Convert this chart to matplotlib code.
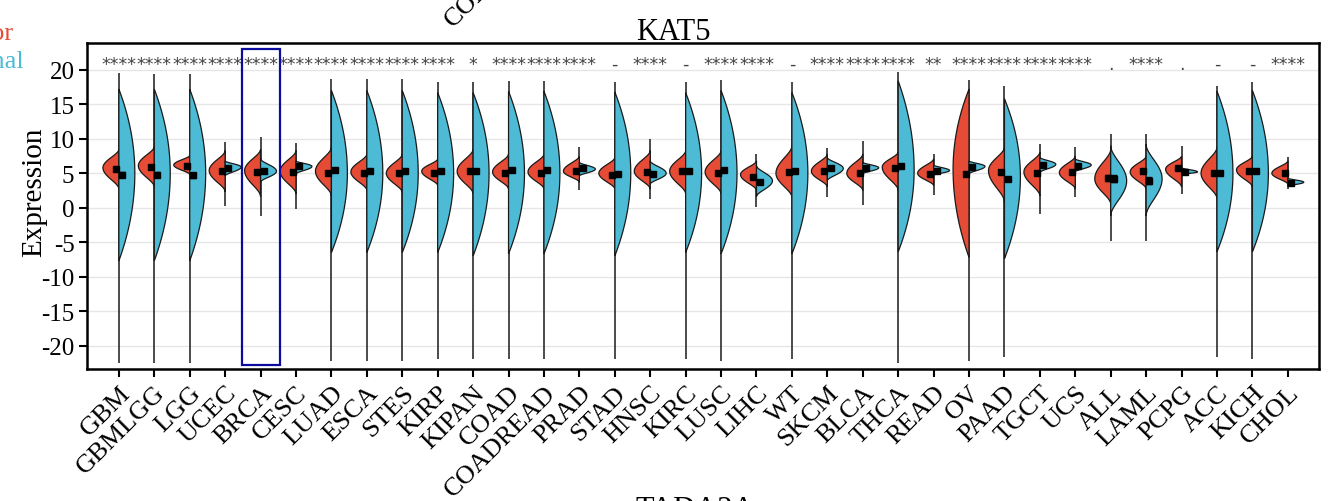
"""
Split violin chart: KAT5 expression in tumor vs normal tissue
"""

import numpy as np
import matplotlib.pyplot as plt
from matplotlib.patches import Rectangle

plt.rcParams['font.family'] = ['Liberation Serif', 'DejaVu Serif']
plt.rcParams['axes.unicode_minus'] = False

cancers = ["GBM", "GBMLGG", "LGG", "UCEC", "BRCA", "CESC", "LUAD", "ESCA", "STES",
           "KIRP", "KIPAN", "COAD", "COADREAD", "PRAD", "STAD", "HNSC", "KIRC", "LUSC",
           "LIHC", "WT", "SKCM", "BLCA", "THCA", "READ", "OV", "PAAD", "TGCT", "UCS",
           "ALL", "LAML", "PCPG", "ACC", "KICH", "CHOL"]
signif = ["****", "****", "****", "****", "****", "****", "****", "****", "****",
          "****", "*", "****", "****", "****", "-", "****", "-", "****",
          "****", "-", "****", "****", "****", "**", "****", "****", "****", "****",
          ".", "****", ".", "-", "-", "****"]

# full data range (thin violin tails)
tail_lo = [-22.5, -22.5, -22.5, 0.3, -1.2, -0.2, -22.2, -22.3, -22.3,
           -21.9, -21.9, -22.0, -22.0, 2.5, -22.0, 1.3, -21.9, -22.2,
           0.1, -21.9, 1.5, 0.4, -22.5, 1.8, -22.2, -21.6, -0.9, 1.6,
           -4.9, -4.9, 2.0, -21.6, -21.9, 2.7]
tail_hi = [19.5, 19.4, 19.4, 9.5, 10.2, 9.4, 18.7, 18.7, 18.7,
           18.2, 18.2, 18.4, 18.4, 8.8, 18.3, 10.0, 18.2, 18.6,
           7.8, 18.2, 8.6, 9.7, 19.7, 7.8, 18.6, 17.7, 9.2, 8.8,
           10.7, 10.7, 9.0, 17.7, 18.2, 7.3]

# tumor half: visible bottom, widest point, visible top, mean, se
tumor_lo = [2.7, 3.0, 4.8, 2.3, 1.6, 2.0, 1.7, 2.5, 2.2,
            3.2, 2.0, 2.7, 2.7, 3.7, 2.7, 2.7, 2.0, 2.0,
            2.5, 1.5, 3.0, 2.5, 2.5, 3.2, -7.2, 0.8, 1.7, 2.7,
            0.5, 2.7, 3.0, 1.3, 3.0, 3.4]
tumor_peak = [5.8, 6.1, 6.2, 5.4, 5.4, 5.3, 5.3, 5.2, 5.0,
              5.3, 5.3, 5.2, 5.2, 5.3, 5.0, 5.3, 5.3, 5.2,
              4.8, 5.0, 5.3, 5.0, 5.9, 5.0, 5.6, 5.4, 5.2, 5.1,
              4.2, 5.2, 5.6, 5.0, 5.5, 5.0]
tumor_hi = [8.5, 8.9, 7.6, 8.3, 8.5, 8.3, 8.8, 7.8, 7.8,
            7.1, 8.5, 7.8, 7.8, 7.5, 7.3, 8.3, 8.3, 8.3,
            6.8, 9.0, 7.8, 7.8, 8.1, 7.1, 17.2, 8.8, 8.1, 7.5,
            8.5, 7.5, 7.5, 8.8, 7.5, 6.8]
tumor_mean = [5.6, 5.9, 6.0, 5.3, 5.2, 5.2, 5.1, 5.0, 5.0,
              5.1, 5.3, 5.1, 5.1, 5.4, 4.8, 5.2, 5.4, 5.1,
              4.4, 5.2, 5.3, 5.1, 5.8, 4.9, 4.9, 5.2, 5.1, 5.2,
              4.3, 5.3, 5.7, 5.0, 5.3, 5.0]
tumor_se = [0.1, 0.05, 0.05, 0.05, 0.05, 0.05, 0.05, 0.1, 0.05,
            0.05, 0.05, 0.05, 0.05, 0.05, 0.2, 0.05, 0.05, 0.05,
            0.05, 0.05, 0.05, 0.05, 0.05, 0.1, 0.3, 0.05, 0.05, 0.1,
            0.4, 0.1, 0.1, 0.1, 0.1, 0.1]

# normal half
normal_lo = [-7.7, -7.7, -7.7, 4.6, 3.7, 4.9, -6.5, -6.5, -6.5,
             -6.5, -7.0, -6.7, -6.7, 4.6, -7.0, 3.4, -6.5, -6.7,
             1.6, -6.7, 3.9, 4.9, -6.4, 4.7, 4.9, -7.4, 5.1, 5.2,
             -1.2, -1.2, 4.8, -6.4, -6.4, 3.1]
normal_peak = [5.0, 5.0, 5.0, 5.9, 5.3, 6.0, 5.0, 5.0, 5.0,
               5.0, 5.0, 5.0, 5.0, 5.6, 5.0, 5.0, 5.0, 5.0,
               3.9, 5.0, 5.7, 5.8, 5.5, 5.4, 6.0, 4.5, 6.3, 6.2,
               3.9, 4.2, 5.2, 5.0, 5.0, 3.7]
normal_hi = [17.2, 17.2, 17.2, 6.8, 7.1, 6.8, 17.0, 17.0, 17.0,
             16.7, 16.7, 16.9, 16.9, 6.6, 16.8, 6.8, 16.7, 17.0,
             6.1, 16.7, 7.3, 6.6, 18.4, 6.2, 6.8, 15.8, 7.3, 7.1,
             9.0, 9.2, 5.8, 16.9, 17.0, 4.3]
normal_mean = [4.8, 4.8, 4.7, 5.8, 5.4, 6.0, 5.5, 5.4, 5.4,
               5.4, 5.4, 5.5, 5.5, 5.7, 4.9, 4.9, 5.4, 5.5,
               3.8, 5.3, 5.7, 5.7, 6.0, 5.3, 5.9, 4.1, 6.2, 6.0,
               4.2, 3.9, 5.2, 5.1, 5.4, 3.6]
normal_se = [0.4, 0.4, 0.4, 0.05, 0.1, 0.1, 0.1, 0.1, 0.1,
             0.1, 0.1, 0.1, 0.1, 0.05, 0.3, 0.1, 0.1, 0.1,
             0.1, 0.1, 0.1, 0.1, 0.1, 0.1, 0.1, 0.2, 0.1, 0.1,
             0.5, 0.5, 0.05, 0.1, 0.1, 0.1]

RED = "#E64B35"
BLUE = "#4DBBD5"
HALF_W = 0.45
W, H = 1338, 502


def half_violin(ax, x, lo, pk, hi, side, color):
    y = np.linspace(lo, hi, 200)
    u = np.where(y < pk, (pk - y) / (pk - lo), (y - pk) / (hi - pk))
    # wide, flat distributions look like lenses, narrow ones like bells
    power = 1 if hi - lo > 15 else 2
    w = HALF_W * (1 - np.clip(u, 0, 1) ** 2) ** power
    xs = np.r_[x + side * w, x, x]
    ys = np.r_[y, hi, lo]
    ax.fill(xs, ys, facecolor=color, edgecolor="#1a1a1a", lw=0.9, zorder=3)


fig = plt.figure(figsize=(W / 100, H / 100), dpi=100)
ax = fig.add_axes([87 / W, 1 - 370 / H, (1319 - 87) / W, (370 - 44) / H])

pos = np.arange(len(cancers))
ax.vlines(pos, tail_lo, tail_hi, color="#1a1a1a", lw=1.1, zorder=2)
for i in pos:
    half_violin(ax, i, tumor_lo[i], tumor_peak[i], tumor_hi[i], -1, RED)
    half_violin(ax, i, normal_lo[i], normal_peak[i], normal_hi[i], 1, BLUE)

ax.errorbar(pos - 0.09, tumor_mean, yerr=tumor_se, fmt="s", color="black",
            ms=4, capsize=2, elinewidth=1, capthick=1, zorder=4)
ax.errorbar(pos + 0.09, normal_mean, yerr=normal_se, fmt="s", color="black",
            ms=4, capsize=2, elinewidth=1, capthick=1, zorder=4)

for i, s in enumerate(signif):
    ax.text(i, 20.1, s, ha="center", va="baseline", fontsize=12.5,
            color="#444444", family="DejaVu Sans")

ax.add_patch(Rectangle((3.48, -22.75), 1.07, 45.75, fill=False,
                       edgecolor="#0B0BA0", lw=1.6, zorder=5, clip_on=False))

ax.set_xlim(-0.9, 33.88)
ax.set_ylim(-23.4, 23.9)
ax.set_yticks(np.arange(-20, 21, 5))
ax.set_xticks(pos)
ax.set_xticklabels(cancers, rotation=45, ha="right", va="top",
                   rotation_mode="anchor", fontsize=19)
ax.tick_params(axis="y", labelsize=18, length=6, width=1.5, pad=3)
ax.tick_params(axis="x", length=6, width=1.5, pad=3)
ax.grid(axis="y", color="#E6E6E6", lw=1.0)
ax.set_axisbelow(True)
for sp in ax.spines.values():
    sp.set_linewidth(1.8)
ax.set_ylabel("Expression", fontsize=21)
ax.yaxis.set_label_coords(-0.032, 0.545)

fig.text(636 / W, 1 - 40 / H, "KAT5", fontsize=22, ha="left", va="baseline")
fig.text(636 / W, 1 - 518 / H, "TADA2A", fontsize=22, ha="left", va="baseline")
fig.text(-57 / W, 1 - 40 / H, "Tumor", fontsize=19, color=RED, va="baseline")
fig.text(-57 / W, 1 - 68 / H, "Normal", fontsize=19, color=BLUE, va="baseline")

# tick label of the panel above peeking in at the top edge
fig.canvas.draw()
lab = ax.get_xticklabels()[12]
px, py = lab.get_transform().transform(lab.get_position())
fig.text(px / W, (py + 470) / H, "COADREAD", rotation=45, ha="right", va="top",
         rotation_mode="anchor", fontsize=19)

fig.savefig("out.png", dpi=100)
